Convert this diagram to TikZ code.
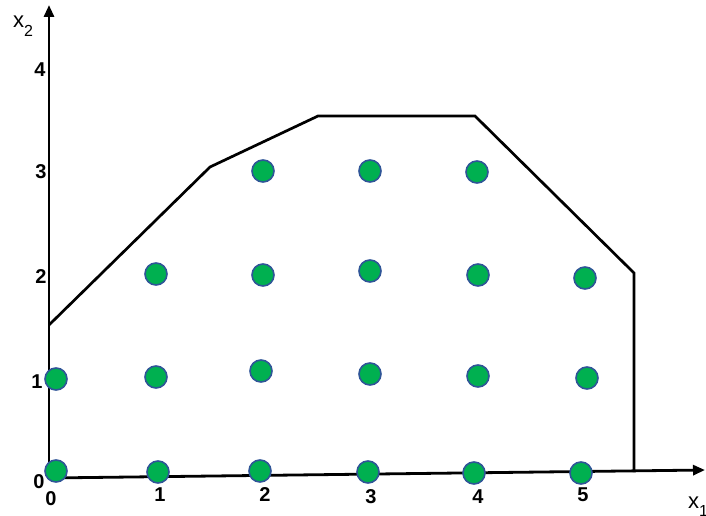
\documentclass[tikz,border=0pt]{standalone}
\usepackage{fontspec}
\setmainfont{Liberation Sans}
\usetikzlibrary{arrows.meta}
\definecolor{dotgreen}{HTML}{00B050}
\definecolor{dotrim}{HTML}{2F5597}

\begin{document}
\begin{tikzpicture}[
  x=1pt, y=-1pt,
  axis/.style={line width=2.8pt, -{Triangle[length=12pt,width=10pt]}},
  hull/.style={line width=2.7pt, line join=miter},
  pt/.style={circle, fill=dotgreen, draw=dotrim, line width=1.6pt, minimum size=22pt, inner sep=0pt},
  tick/.style={font=\fontsize{20}{20}\selectfont\bfseries, inner sep=0pt},
  lbl/.style={font=\fontsize{22}{22}\selectfont, inner sep=0pt, anchor=base west}
]
  \useasboundingbox (0,0) rectangle (706,516);

  % axes
  \coordinate (o) at (49,478);
  \coordinate (ytip) at (49,5);
  \coordinate (xtip) at (705,470);
  \draw[axis] (o) -- (ytip);
  \draw[axis] (o) -- (xtip);

  \node[lbl] (x2) at (13,28) {x\raisebox{-0.4em}{\fontsize{16}{16}\selectfont 2}};
  \node[lbl] (x1) at (688,508) {x\raisebox{-0.4em}{\fontsize{16}{16}\selectfont 1}};

  % tick labels
  \node[tick] (y4) at (40,70) {4};
  \node[tick] (y3) at (41,172) {3};
  \node[tick] (y2) at (41,277) {2};
  \node[tick] (y1) at (37,382) {1};
  \node[tick] (y0) at (39,482) {0};
  \node[tick] (t0) at (51,499) {0};
  \node[tick] (t1) at (160,495) {1};
  \node[tick] (t2) at (265,495) {2};
  \node[tick] (t3) at (371,497) {3};
  \node[tick] (t4) at (478,497) {4};
  \node[tick] (t5) at (583,495) {5};

  % feasible region
  \coordinate (h1) at (49,325);
  \coordinate (h2) at (210,167);
  \coordinate (h3) at (318,116);
  \coordinate (h4) at (475,116);
  \coordinate (h5) at (634,273);
  \coordinate (h6) at (634,472);
  \draw[hull] (h1) -- (h2) -- (h3) -- (h4) -- (h5) -- (h6);

  % integer points
  \foreach \px/\py/\nm in {56/471/p00, 158/472/p10, 260/471/p20, 368/472/p30, 474/473/p40, 581/473/p50,
      56/379/p01, 156/377/p11, 261/371/p21, 370/374/p31, 478/376/p41, 587/378/p51,
      156/274/p12, 263/275/p22, 370/271/p32, 478/275/p42, 585/278/p52,
      263/171/p23, 370/171/p33, 477/172/p43}
    \node[pt] (\nm) at (\px,\py) {};
\end{tikzpicture}
\end{document}
